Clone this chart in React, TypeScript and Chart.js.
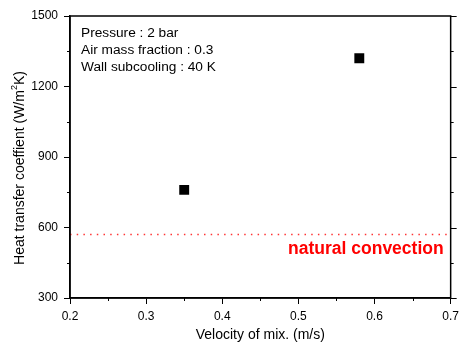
import React, { useEffect, useRef } from "react";
import { Chart, registerables } from "chart.js";

Chart.register(...registerables);

// ---- data ----
const velocity = [0.35, 0.58];
const htc = [760, 1320];
const naturalConvection = 570;
const xLimits = [0.2, 0.7];
const yLimits = [300, 1500];
const xMajorStep = 0.1;
const yMajorStep = 300;
const conditions = ["Pressure : 2 bar", "Air mass fraction : 0.3", "Wall subcooling : 40 K"];
const lineLabel = "natural convection";
const xTitle = "Velocity of mix. (m/s)";
const yTitleParts = ["Heat transfer coeffient (W/m", "2", "K)"];

const FONT = "Arial, 'Liberation Sans', Helvetica, sans-serif";

const framePlugin = {
  id: "frame",
  afterDraw(chart: any) {
    const ctx = chart.ctx;
    const { left, right, top, bottom } = chart.chartArea;
    const xs = chart.scales.x;
    const ys = chart.scales.y;
    ctx.save();
    ctx.strokeStyle = "#000";
    ctx.lineWidth = 1.5;
    ctx.strokeRect(left, top, right - left, bottom - top);
    ctx.lineWidth = 1;
    // minor ticks left / right
    for (let v = yLimits[0]; v <= yLimits[1] + 1e-6; v += yMajorStep / 2) {
      const py = Math.round(ys.getPixelForValue(v)) + 0.5;
      const k = (v - yLimits[0]) / yMajorStep;
      const isMajor = Math.abs(k - Math.round(k)) < 1e-6;
      const len = isMajor ? 6 : 3;
      ctx.beginPath();
      if (!isMajor) {
        ctx.moveTo(left - len, py);
        ctx.lineTo(left, py);
      }
      ctx.moveTo(right, py);
      ctx.lineTo(right + len, py);
      ctx.stroke();
    }
    // minor ticks bottom
    for (let v = xLimits[0]; v <= xLimits[1] + 1e-6; v += xMajorStep / 2) {
      const px = Math.round(xs.getPixelForValue(v)) + 0.5;
      const k = (v - xLimits[0]) / xMajorStep;
      const isMajor = Math.abs(k - Math.round(k)) < 1e-6;
      if (isMajor) continue;
      ctx.beginPath();
      ctx.moveTo(px, bottom);
      ctx.lineTo(px, bottom + 3);
      ctx.stroke();
    }
    // condition text
    ctx.fillStyle = "#000";
    ctx.font = `13.7px ${FONT}`;
    ctx.textAlign = "left";
    ctx.textBaseline = "middle";
    conditions.forEach((t, i) => {
      ctx.fillText(t, left + 11, top + 17 + i * 17);
    });
    // x title
    ctx.font = `14px ${FONT}`;
    ctx.textAlign = "center";
    ctx.fillText(xTitle, (left + right) / 2, 335);
    // y title with superscript
    ctx.save();
    ctx.translate(20, 168);
    ctx.rotate(-Math.PI / 2);
    ctx.textAlign = "left";
    const mainFont = `14px ${FONT}`;
    const supFont = `9px ${FONT}`;
    ctx.font = mainFont;
    const w0 = ctx.measureText(yTitleParts[0]).width;
    const w2 = ctx.measureText(yTitleParts[2]).width;
    ctx.font = supFont;
    const w1 = ctx.measureText(yTitleParts[1]).width;
    const total = w0 + w1 + w2;
    let x = -total / 2;
    ctx.font = mainFont;
    ctx.fillText(yTitleParts[0], x, 0);
    x += w0;
    ctx.font = supFont;
    ctx.fillText(yTitleParts[1], x, -5);
    x += w1;
    ctx.font = mainFont;
    ctx.fillText(yTitleParts[2], x, 0);
    ctx.restore();
    // natural convection label
    ctx.fillStyle = "#ff0000";
    ctx.font = `bold 17.5px ${FONT}`;
    ctx.textAlign = "right";
    ctx.fillText(lineLabel, right - 7, ys.getPixelForValue(naturalConvection) + 15);
    ctx.restore();
  },
};

export default function App() {
  const ref = useRef<HTMLCanvasElement>(null);
  useEffect(() => {
    document.body.style.margin = "0";
    const canvas = ref.current!;
    const chart = new Chart(canvas, {
      type: "scatter",
      data: {
        datasets: [
          {
            type: "line",
            label: lineLabel,
            data: [
              { x: xLimits[0], y: naturalConvection },
              { x: xLimits[1], y: naturalConvection },
            ],
            borderColor: "rgba(255,0,0,0.8)",
            borderWidth: 1.5,
            borderDash: [1.5, 5.2],
            pointRadius: 0,
            fill: false,
          },
          {
            label: "HTC",
            data: velocity.map((v, i) => ({ x: v, y: htc[i] })),
            pointStyle: "rect",
            pointRadius: 7,
            backgroundColor: "#000",
            borderColor: "#000",
            borderWidth: 0,
          },
        ],
      },
      options: {
        responsive: false,
        animation: false,
        devicePixelRatio: 1,
        layout: { padding: { top: 16, right: 9, left: 0, bottom: 0 } },
        plugins: {
          legend: { display: false },
          tooltip: { enabled: false },
        },
        scales: {
          x: {
            type: "linear",
            min: xLimits[0],
            max: xLimits[1],
            afterFit: (s: any) => {
              s.height = 47;
            },
            border: { display: true, color: "#000", width: 1.5 },
            grid: { drawOnChartArea: false, drawTicks: true, tickLength: 6, color: "#000", lineWidth: 1 },
            ticks: {
              stepSize: xMajorStep,
              padding: 5,
              color: "#000",
              font: { family: FONT, size: 12 },
              maxRotation: 0,
              callback: (v: any) => Number(v).toFixed(1),
            },
            title: { display: false },
          },
          y: {
            type: "linear",
            min: yLimits[0],
            max: yLimits[1],
            afterFit: (s: any) => {
              s.width = 70;
            },
            border: { display: true, color: "#000", width: 1.5 },
            grid: { drawOnChartArea: false, drawTicks: true, tickLength: 6, color: "#000", lineWidth: 1 },
            ticks: {
              stepSize: yMajorStep,
              padding: 6,
              color: "#000",
              font: { family: FONT, size: 12 },
              callback: (v: any) => String(Math.round(Number(v))),
            },
            title: { display: false },
          },
        },
      },
      plugins: [framePlugin],
    } as any);
    return () => chart.destroy();
  }, []);
  return (
    <div style={{ width: 464, height: 345 }}>
      <canvas ref={ref} width={464} height={345} style={{ display: "block" }} />
    </div>
  );
}
